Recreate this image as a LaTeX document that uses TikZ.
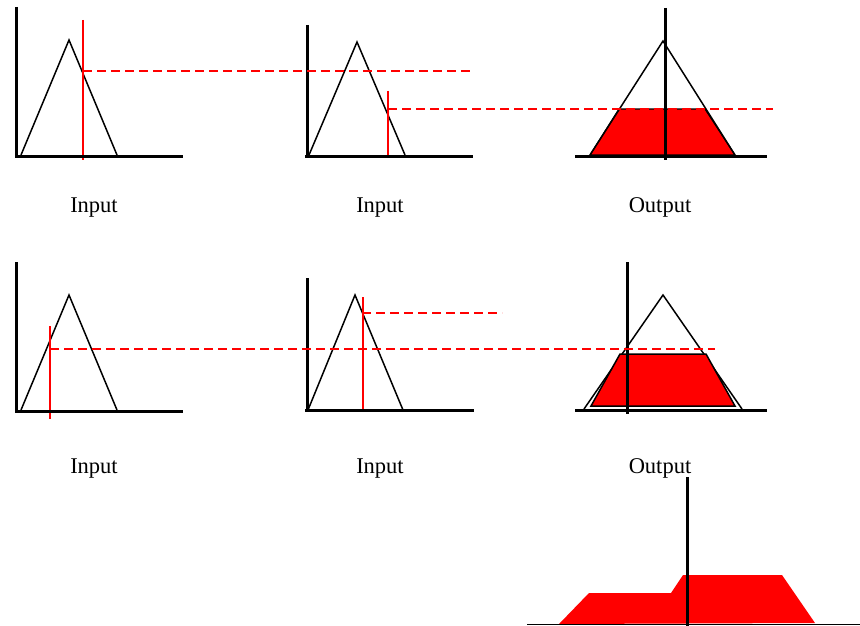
\documentclass[tikz,border=0pt]{standalone}
\usepackage{fontspec}
\setmainfont{Liberation Serif}
\begin{document}
\begin{tikzpicture}[x=1pt,y=-1pt,
 axis/.style={line width=3pt},
 thinaxis/.style={line width=1.6pt},
 tri/.style={line width=1.5pt, line join=miter},
 cut/.style={red, line width=1.6pt},
 level/.style={red, line width=1.5pt, dash pattern=on 9pt off 5pt},
 area/.style={fill=red},
 lbl/.style={font=\fontsize{22.5}{26}\selectfont, anchor=base}]
\useasboundingbox (0,0) rectangle (860,626);
% ---------- row 1 ----------
% panel 1
\draw[tri] (21,155) -- (69,40) -- (117,155);
\draw[cut] (83,20) -- (83,160);
\draw[axis] (16,7) -- (16,157);
\draw[axis] (15,156) -- (183,156);
% panel 2
\draw[tri] (309,155) -- (357,42) -- (405,155);
\draw[cut] (388,91) -- (388,155);
\draw[axis] (307,25) -- (307,157);
\draw[axis] (305,156) -- (473,156);
% panel 3
\draw[area, draw=black, line width=1.2pt] (590,155) -- (619,109) -- (705,109) -- (735,155) -- cycle;
\draw[tri] (590,155) -- (663,41) -- (735,155);
\draw[axis] (665,8) -- (665,160);
\draw[axis] (575,156) -- (767,156);
% level lines row 1
\draw[level] (83,71) -- (470,71);
\draw[level] (388,109) -- (773,109);
\node[lbl] (l1) at (94,212) {Input};
\node[lbl] (l2) at (380,212) {Input};
\node[lbl] (l3) at (660,212) {Output};
% ---------- row 2 ----------
% panel 4
\draw[tri] (21,410) -- (69,295) -- (117,410);
\draw[cut] (50,326) -- (50,419);
\draw[axis] (16,262) -- (16,412);
\draw[axis] (15,411) -- (183,411);
% panel 5
\draw[tri] (308,410) -- (355,295) -- (403,410);
\draw[cut] (363,297) -- (363,411);
\draw[axis] (307,278) -- (307,412);
\draw[axis] (305,410) -- (474,410);
% panel 6
\draw[tri] (584,409) -- (663,295) -- (742,409);
\draw[area, draw=black, line width=1.5pt] (591,406) -- (620,354) -- (706,354) -- (735,406) -- cycle;
\draw[axis] (627,262) -- (627,414);
\draw[axis] (575,410) -- (767,410);
% level lines row 2
\draw[level] (50,349) -- (715,349);
\draw[level] (362,313) -- (502,313);
\node[lbl] (l4) at (94,473) {Input};
\node[lbl] (l5) at (380,473) {Input};
\node[lbl] (l6) at (660,473) {Output};
% ---------- result ----------
\fill[red] (559,624) -- (589,593) -- (671,593) -- (683,575) -- (782,575) -- (815,623) -- cycle;
\draw[axis] (687,477) -- (687,626);
\draw[thinaxis] (527,624.5) -- (860,624.5);
\end{tikzpicture}
\end{document}
